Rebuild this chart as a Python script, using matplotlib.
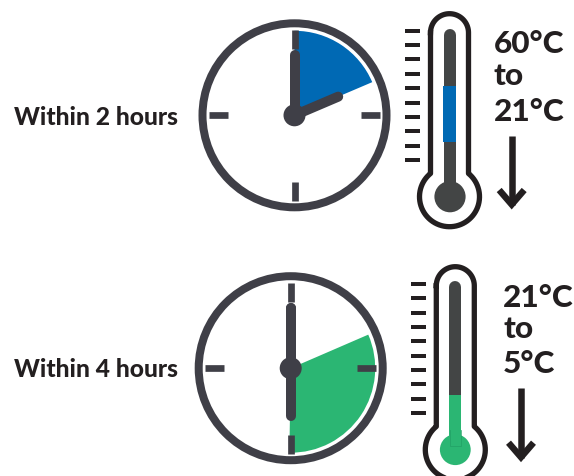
import numpy as np
import matplotlib
matplotlib.use("Agg")
import matplotlib.pyplot as plt
from matplotlib.patches import Wedge, Circle, Rectangle

plt.rcParams['font.family'] = ['Lato', 'DejaVu Sans']

WIDTH = 574
HEIGHT = 476

ringColor = "#3f3f47"
inkColor = "#231f20"
rodColor = "#434545"
blueColor = "#0069b4"
greenColor = "#2bb673"

# clock readings, in hours on the dial
rowLabels = ["Within 2 hours", "Within 4 hours"]
wedgeStart = [0.0, 2.22]
wedgeEnd = [2.23, 6.03]
hourHand = [2.23, 6.0]
minuteHand = [0.0, 0.0]
wedgeColors = [blueColor, greenColor]

# thermometer text and the coloured stretch of each rod
tempLines = [["60°C", "to", "21°C"], ["21°C", "to", "5°C"]]
tempColors = [blueColor, greenColor]
scaleTicks = 10


def px(n):
    return n * 72.0 / 100.0


def handEnd(cx, cy, length, hours):
    a = np.radians(hours * 30 - 90)
    return cx + length * np.cos(a), cy + length * np.sin(a)


def DrawClock(ax, cx, cy, start, end, hourPos, minutePos, color):
    # y axis is inverted, so positive angles run clockwise like the dial
    ax.add_patch(Wedge((cx, cy), 84.5, start * 30 - 90, end * 30 - 90, color=color, lw=0, zorder=1))
    ax.add_patch(Circle((cx, cy), 92, fill=False, ec=ringColor, lw=px(8), zorder=2))
    for h in [0, 3, 6, 9]:
        x0, y0 = handEnd(cx, cy, 66.5, h)
        x1, y1 = handEnd(cx, cy, 85.5, h)
        ax.plot([x0, x1], [y0, y1], color=ringColor, lw=px(6.7), solid_capstyle="butt", zorder=3)
    x, y = handEnd(cx, cy, 60, minutePos)
    ax.plot([cx, x], [cy, y], color=ringColor, lw=px(10), solid_capstyle="round", zorder=4)
    x, y = handEnd(cx, cy, 47.5, hourPos)
    ax.plot([cx, x], [cy, y], color=ringColor, lw=px(10), solid_capstyle="round", zorder=4)
    ax.add_patch(Circle((cx, cy), 11, color=ringColor, lw=0, zorder=5))


def DrawThermometerOutline(ax, cx, top, bulbY):
    halfW = 19.0
    bulbR = 30.0
    capY = top + halfW
    capT = np.linspace(np.pi, 2 * np.pi, 40)
    joint = np.arcsin(halfW / bulbR)
    bulbT = np.linspace(-np.pi / 2 + joint, 3 * np.pi / 2 - joint, 120)
    xs = np.concatenate([cx + halfW * np.cos(capT), cx + bulbR * np.cos(bulbT), [cx - halfW]])
    ys = np.concatenate([capY + halfW * np.sin(capT), bulbY + bulbR * np.sin(bulbT), [capY]])
    ax.plot(xs, ys, color=inkColor, lw=px(5.3), solid_joinstyle="round", zorder=2)


def DrawArrow(ax, cx, top, tip):
    ax.plot([cx, cx], [top, tip - 4], color=inkColor, lw=px(6.5), solid_capstyle="butt", zorder=2)
    ax.plot([cx - 12.5, cx, cx + 12.5], [tip - 19, tip - 4.5, tip - 19], color=inkColor, lw=px(6.5),
            solid_joinstyle="miter", solid_capstyle="butt", zorder=2)


def DrawThermometer(ax, cx, top, bulbY, tickX, tickTop, tickBottom):
    DrawThermometerOutline(ax, cx, top, bulbY)
    for y in np.linspace(tickTop, tickBottom, scaleTicks):
        ax.plot([tickX, tickX + 15], [y, y], color=inkColor, lw=px(4), solid_capstyle="butt", zorder=2)


fig = plt.figure(figsize=(WIDTH / 100.0, HEIGHT / 100.0), dpi=100)
ax = fig.add_axes([0, 0, 1, 1])
ax.set_xlim(0, WIDTH)
ax.set_ylim(HEIGHT, 0)
ax.axis("off")

# upper row
DrawClock(ax, 294.5, 115.3, wedgeStart[0], wedgeEnd[0], hourHand[0], minuteHand[0], wedgeColors[0])
DrawThermometer(ax, 449.5, 13.7, 196.7, 405, 30.7, 160)
ax.plot([450, 450], [35, 190], color=rodColor, lw=px(12), solid_capstyle="round", zorder=3)
ax.add_patch(Circle((450, 196.7), 15.6, color=rodColor, lw=0, zorder=3))
ax.add_patch(Rectangle((443.3, 86), 13, 56, color=tempColors[0], lw=0, zorder=4))
DrawArrow(ax, 511.7, 135.7, 209)

# lower row
DrawClock(ax, 290.7, 368.2, wedgeStart[1], wedgeEnd[1], hourHand[1], minuteHand[1], wedgeColors[1])
ax.plot([290.7, 290.7], [308, 406.7], color=ringColor, lw=px(10), solid_capstyle="round", zorder=4)
DrawThermometer(ax, 455.3, 266.7, 449.7, 411, 284, 413)
ax.plot([455.3, 455.3], [287, 394.7], color=rodColor, lw=px(12), solid_capstyle="round", zorder=3)
ax.plot([455.3, 455.3], [394.7, 450], color=tempColors[1], lw=px(12), solid_capstyle="butt", zorder=3)
ax.add_patch(Circle((455.3, 449.7), 15.4, color=tempColors[1], lw=0, zorder=3))
ax.plot([449.5, 449.5, 461.1, 461.1], [430, 446, 446, 430], color="#22a065", lw=px(0.7), zorder=4)
DrawArrow(ax, 521, 388.3, 461.7)

# text
lineX = [494, 503]
lineY = [[53, 85, 120.7], [306.7, 337.7, 373.3]]
labelY = [125, 377]
for i in range(2):
    ax.text(14.5, labelY[i], rowLabels[i], fontsize=px(24.5), fontweight="black", color=inkColor,
            ha="left", va="baseline")
    for t, y in zip(tempLines[i], lineY[i]):
        ax.text(lineX[i], y, t, fontsize=px(31.5), fontweight="black", color=inkColor, ha="left", va="baseline")

fig.savefig("out.png", dpi=100)
